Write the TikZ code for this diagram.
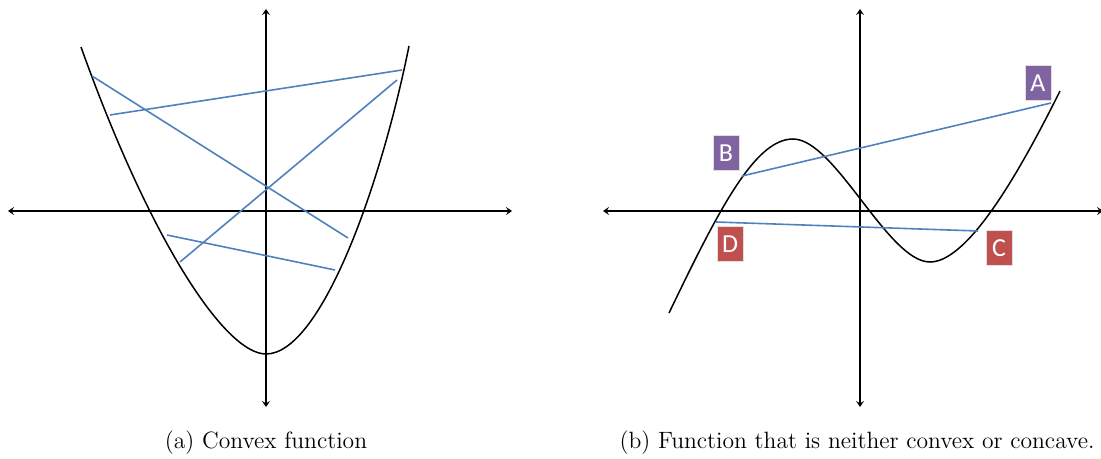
\documentclass[tikz,border=0pt]{standalone}
\usepackage{fontspec}
\newfontfamily\tagfont{Carlito}
\usetikzlibrary{arrows.meta,positioning}
\definecolor{Chord}{HTML}{4F81BD}
\definecolor{Plum}{HTML}{8064A2}
\definecolor{Brick}{HTML}{C0504D}
\tikzset{
 axis/.style={{Stealth[length=3pt,width=4pt,inset=1.2pt]}-{Stealth[length=3pt,width=4pt,inset=1.2pt]},line width=0.7pt},
 curve/.style={line width=0.75pt},
 chord/.style={draw=Chord,line width=0.8pt},
 tag/.style={font=\tagfont\fontsize{13}{13}\selectfont,text=white,minimum width=13pt,
   minimum height=17.5pt,inner sep=0pt,draw=black!12,line width=0.5pt},
 caption/.style={font=\fontsize{11.8}{14}\selectfont,inner sep=0pt}
}
\begin{document}
\begin{tikzpicture}[x=0.5pt,y=-0.5pt]
\useasboundingbox (0,0) rectangle (1101,459);
% (a) convex function
\draw[axis] (8,211) -- (512,211);
\draw[axis] (266,407) -- (266,9);
\draw[curve] (81,47) .. controls (150,240) and (225,354) .. (266,354)
  .. controls (320,354) and (380,190) .. (409,46);
\coordinate (p1) at (110,115); \coordinate (q1) at (402,70);
\coordinate (p2) at (92,76);   \coordinate (q2) at (348,238);
\coordinate (p3) at (180,262); \coordinate (q3) at (397,80);
\coordinate (p4) at (167,235); \coordinate (q4) at (335,270);
\draw[chord] (p1) -- (q1);
\draw[chord] (p2) -- (q2);
\draw[chord] (p3) -- (q3);
\draw[chord] (p4) -- (q4);
\node[caption] (capa) at (266,443) {(a) Convex function};

% (b) neither convex nor concave
\draw[axis] (603,211) -- (1103,211);
\draw[axis] (860,407) -- (860,9);
\draw[curve] (669,313) .. controls (719,209) and (755,139) .. (793,139)
  .. controls (835,139) and (888,262) .. (930,262)
  .. controls (970,262) and (1024,163) .. (1060,91);
\coordinate (ptA) at (1051,103); \coordinate (ptB) at (742,176);
\coordinate (ptC) at (978,231);  \coordinate (ptD) at (716,222);
\draw[chord] (ptB) -- (ptA);
\draw[chord] (ptD) -- (ptC);
\node[tag,fill=Plum] (tagA) at (1038,83) {A};
\node[tag,fill=Plum] (tagB) at (726,153) {B};
\node[tag,fill=Brick] (tagC) at (999,248) {C};
\node[tag,fill=Brick] (tagD) at (730,244) {D};
\node[caption] (capb) at (857,443) {(b) Function that is neither convex or concave.};
\end{tikzpicture}
\end{document}
